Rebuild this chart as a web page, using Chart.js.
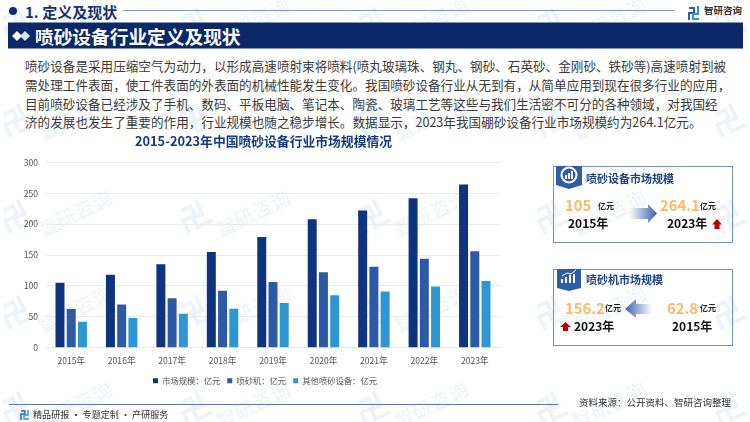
<!DOCTYPE html>
<html lang="zh"><head><meta charset="utf-8">
<script src="https://cdn.jsdelivr.net/npm/chart.js@4/dist/chart.umd.min.js"></script>
<style>
html,body{margin:0;padding:0;background:#fff;width:750px;height:422px;overflow:hidden}
body{position:relative;font-family:"Noto Sans CJK SC","Noto Sans",sans-serif}
.t{position:absolute;white-space:nowrap;line-height:1}
.c{transform:translateY(-50%)}
#wm{position:absolute;left:0;top:0;width:750px;height:422px;overflow:hidden}
.tile{position:absolute;width:120px;height:70px}
.tile svg{position:absolute;left:0;top:0}
.tile b{position:absolute;left:30px;top:30px;font-size:19px;letter-spacing:1px;color:#f1f5f9;transform:rotate(-26deg);transform-origin:left top;white-space:nowrap;font-weight:500}
.tile i{position:absolute;left:38px;top:46px;font-size:5px;font-style:normal;color:#f0f3f7;transform:rotate(-26deg);transform-origin:left top;white-space:nowrap}
#ch{position:absolute;left:0;top:0}
.card{position:absolute;left:553px;width:178px;height:75px;border:1px solid #7290c4;box-sizing:content-box}
.orange{color:#fbb868;font-weight:700;font-size:14.8px}
.unit{color:#222;font-weight:700;font-size:8px}
.year{color:#111;font-weight:700;font-size:12px}
.cardT{color:#1e4287;font-weight:700;font-size:11px}
.body{color:#3a3a3a;font-size:12.6px}
</style></head><body>
<div id="wm"></div>

<svg style="position:absolute;left:0;top:0" width="750" height="422">
 <defs>
  <linearGradient id="gr" x1="0" x2="1"><stop offset="0" stop-color="#ffffff"/><stop offset="1" stop-color="#3a62ab"/></linearGradient>
  <linearGradient id="gl" x1="1" x2="0"><stop offset="0" stop-color="#ffffff"/><stop offset="1" stop-color="#3a62ab"/></linearGradient>
 </defs>
 <circle cx="13" cy="11" r="4" fill="#0d2d72"/>
 <line x1="123" y1="10.5" x2="674" y2="10.5" stroke="#8296c2" stroke-width="1"/>
 <rect x="8" y="22.5" width="735" height="26" fill="#0b2969"/>
 <polygon points="12,36 17,31 22,36 17,41" fill="#fff"/>
 <polygon points="20,36 25,31 30,36 25,41" fill="#d9dfeb"/>
 <g fill="none" stroke-width="2">
  <path d="M689 8H694V13H689V20" stroke="#2a5aa8"/>
  <path d="M698 6V14H693V19H699" stroke="#2e96d3"/>
 </g>
 <line x1="9" y1="404.5" x2="558" y2="404.5" stroke="#5d77ad" stroke-width="1"/>
 <g fill="none" stroke-width="1.4">
  <path d="M21 411H25V414H21V420" stroke="#2a5aa8"/>
  <path d="M28 410V415H24V419H29" stroke="#2e96d3"/>
 </g>
</svg>

<div class="t c" style="left:25px;top:11px;font-size:15px;font-weight:700;color:#17306e">1. 定义及现状</div>
<div class="t c" style="left:35px;top:35.5px;font-size:18.7px;font-weight:700;color:#fff">喷砂设备行业定义及现状</div>
<div class="t c" style="left:704px;top:10.5px;font-size:9.5px;font-weight:700;color:#333">智研咨询</div>

<div class="t c body" style="left:25px;top:66px">喷砂设备是采用压缩空气为动力，以形成高速喷射束将喷料(喷丸玻璃珠、钢丸、钢砂、石英砂、金刚砂、铁砂等)高速喷射到被</div>
<div class="t c body" style="left:25px;top:85px">需处理工件表面，使工件表面的外表面的机械性能发生变化。我国喷砂设备行业从无到有，从简单应用到现在很多行业的应用，</div>
<div class="t c body" style="left:25px;top:104px">目前喷砂设备已经涉及了手机、数码、平板电脑、笔记本、陶瓷、玻璃工艺等这些与我们生活密不可分的各种领域，对我国经</div>
<div class="t c body" style="left:25px;top:122px">济的发展也发生了重要的作用，行业规模也随之稳步增长。数据显示，2023年我国硼砂设备行业市场规模约为264.1亿元。</div>

<canvas id="ch" width="527" height="402" style="width:527px;height:402px"></canvas>

<div class="card" style="top:166px"></div>
<div class="card" style="top:269px"></div>
<svg style="position:absolute;left:0;top:0" width="750" height="422">
 <polygon points="556,166 582,166 582,185 569,189 556,185" fill="#2f5ca9"/>
 <circle cx="569" cy="175" r="7.5" fill="none" stroke="#fff" stroke-width="2"/>
 <rect x="565" y="175" width="2" height="4" fill="#fff"/><rect x="568" y="173" width="2" height="6" fill="#fff"/><rect x="571" y="171" width="2" height="8" fill="#fff"/>
 <polygon points="629,208 648,208 648,204 657,213.5 648,223 648,219 629,219" fill="url(#gr)"/>
 <polygon points="717,219 722,224.5 719.5,224.5 719.5,229 714.5,229 714.5,224.5 712,224.5" fill="#c00000"/>
 <polygon points="557,269 581,269 581,288 569,291 557,288" fill="#2f5ca9"/>
 <path d="M562 283V279M566 283V277M570 283V275M574 283V274" stroke="#fff" stroke-width="2"/>
 <path d="M562 276L567 273L571 274L576 270" stroke="#fff" fill="none" stroke-width="1"/>
 <polygon points="652,304 636,304 636,299 625,309 636,318 636,314 652,314" fill="url(#gl)"/>
 <polygon points="565.5,322 571,327 568,327 568,331 563,331 563,327 560,327" fill="#c00000"/>
</svg>

<div class="t c cardT" style="left:586px;top:178px">喷砂设备市场规模</div>
<div class="t c orange" style="left:565px;top:205px">105</div>
<div class="t c unit" style="left:598px;top:206px">亿元</div>
<div class="t c year" style="left:568px;top:223px">2015年</div>
<div class="t c orange" style="left:660px;top:205px">264.1</div>
<div class="t c unit" style="left:700px;top:206px">亿元</div>
<div class="t c year" style="left:667px;top:223px">2023年</div>

<div class="t c cardT" style="left:586px;top:279px">喷砂机市场规模</div>
<div class="t c orange" style="left:565px;top:308px">156.2</div>
<div class="t c unit" style="left:605px;top:308px">亿元</div>
<div class="t c year" style="left:574px;top:326px">2023年</div>
<div class="t c orange" style="left:667px;top:308px">62.8</div>
<div class="t c unit" style="left:700px;top:308px">亿元</div>
<div class="t c year" style="left:672px;top:326px">2015年</div>

<div class="t c" style="left:33px;top:415px;font-size:9.1px;color:#333">精品研报 · 专题定制 · 产研服务</div>
<div class="t c" style="left:579px;top:403px;font-size:9.5px;color:#333">资料来源：公开资料、智研咨询整理</div>

<script>
const categories = ["2015年","2016年","2017年","2018年","2019年","2020年","2021年","2022年","2023年"];
const marketSize = [105,118,135,155,179,208,222,242,264.1];
const blastMachines = [62.8,70,80,92,106.5,122,131,144,156.2];
const otherEquipment = [42.2,48,55,63,72.5,85,91,99,107.9];
const seriesNames = ["市场规模：亿元","喷砂机：亿元","其他喷砂设备：亿元"];

const wm = document.getElementById('wm');
for (let r = 0; r < 5; r++) for (let k = 0; k < 5; k++) {
  const d = document.createElement('div');
  d.className = 'tile';
  d.style.left = (3 + 178 * k) + 'px';
  d.style.top = (-5 + 96 * r) + 'px';
  d.innerHTML = '<svg width="40" height="50"><g fill="none" stroke="#eef3f8" stroke-width="4" transform="rotate(-26 15 30)"><path d="M2 18H15V28H2V42"/><path d="M22 14V30H12V40H28"/></g></svg><b>智研咨询</b><i>INTELLIGENCE RESEARCH GROUP</i>';
  wm.appendChild(d);
}

// centre title and legend where the reference has them, off the plot's own centre
const recentre = {
  id: 'recentre',
  afterLayout(chart) {
    chart.titleBlock.left += 27;
    chart.legend.left += 30;
  }
};

const fontFam = '"Noto Sans CJK SC","Noto Sans",sans-serif';
new Chart(document.getElementById('ch'), {
  type: 'bar',
  plugins: [recentre],
  data: {
    labels: categories,
    datasets: [
      {label: seriesNames[0], data: marketSize, backgroundColor: '#0d3381'},
      {label: seriesNames[1], data: blastMachines, backgroundColor: '#2d5aa6'},
      {label: seriesNames[2], data: otherEquipment, backgroundColor: '#2e96d3'}
    ]
  },
  options: {
    responsive: false,
    animation: false,
    categoryPercentage: 0.668,
    barPercentage: 0.80,
    layout: {padding: {top: 133, right: 27, bottom: 7, left: 0}},
    plugins: {
      tooltip: {enabled: false},
      title: {display: true, text: '2015-2023年中国喷砂设备行业市场规模情况', color: '#143a82',
        font: {family: fontFam, size: 12.8, weight: 'bold', lineHeight: 1.2}, padding: {top: 0, bottom: 14}},
      legend: {position: 'bottom', labels: {boxWidth: 5, boxHeight: 5, color: '#555', padding: 7,
        font: {family: fontFam, size: 8.3}}}
    },
    scales: {
      x: {
        grid: {display: false, drawTicks: false},
        border: {color: '#e4e6ea'},
        ticks: {color: '#555', font: {family: fontFam, size: 8.6}, padding: 8, maxRotation: 0},
        afterFit(s) { s.height = 22; }
      },
      y: {
        min: 0, max: 300,
        grid: {color: '#e9ebef', drawTicks: false},
        border: {display: false},
        ticks: {stepSize: 50, color: '#555', font: {family: fontFam, size: 8.6}, padding: 8},
        afterFit(s) { s.width = 46; }
      }
    }
  }
});
</script>
</body></html>
